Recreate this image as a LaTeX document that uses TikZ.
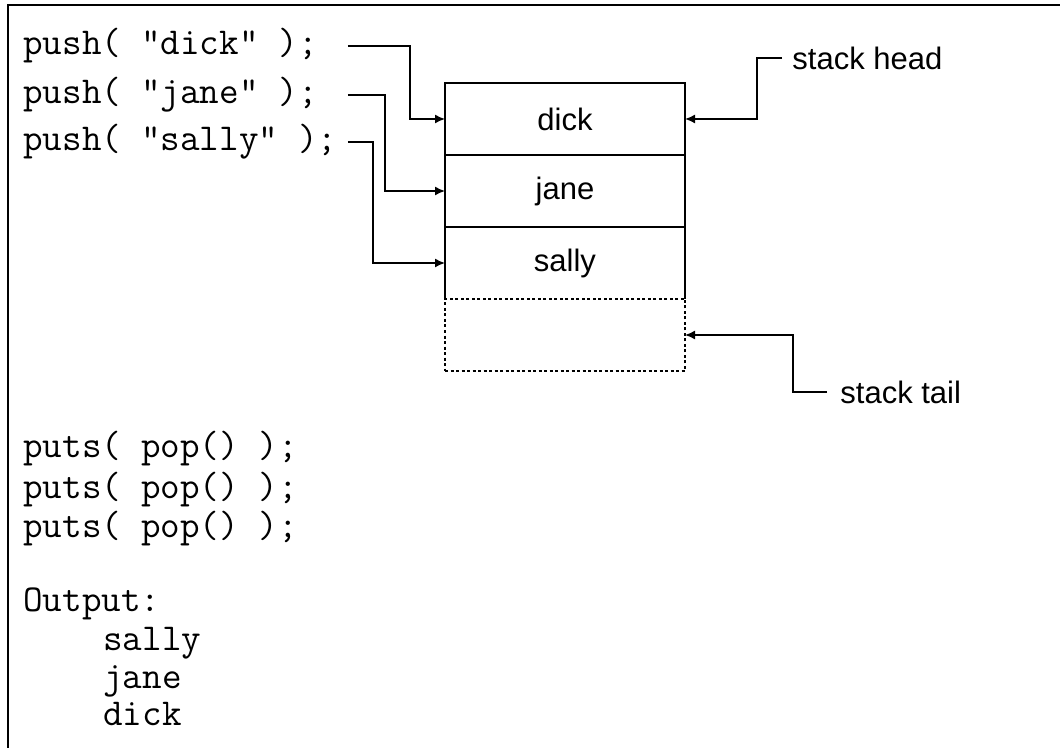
\documentclass[tikz,border=0pt]{standalone}
\usepackage{fontspec}
\usepackage{pgf,tikz}
\usetikzlibrary{positioning, arrows.meta}
\newfontfamily\labelfont{Liberation Sans}
\tikzset{
    codeline/.style={anchor=base west, inner sep=0pt, font=\ttfamily\fontsize{19}{22}\selectfont, execute at begin node={\spaceskip=0.525em\relax}},
    pushline/.style={codeline, text width=162pt, align=left},
    cell/.style={minimum width=120pt, minimum height=36pt, inner sep=0pt, outer sep=0pt, font=\labelfont\fontsize{15.5}{18}\selectfont},
    emptycell/.style={cell, draw, line width=0.75pt, dash pattern={on 1.5pt off 1.25pt}},
    tag/.style={anchor=west, inner sep=5pt, font=\labelfont\fontsize{15.5}{18}\selectfont},
    conn/.style={-{Latex[length=5pt,width=4.5pt]}, line width=0.75pt},
}

\begin{document}
\begin{tikzpicture}[x=0.5pt, y=-0.5pt]
    \useasboundingbox (0,0) rectangle (1060,748);
    \draw[line width=1.4pt] (8,748) -- (8,5) -- (1060,5); % frame, top and left only
    % the stack
    \node[cell] (dick) at (565,119) {dick};
    \node[cell, below=0pt of dick] (jane) {jane};
    \node[cell, below=0pt of jane] (sally) {sally};
    \node[emptycell, below=0pt of sally] (empty) {};
    \draw[line width=0.75pt] (sally.south west) -- (dick.north west) -- (dick.north east) -- (sally.south east);
    \draw[line width=0.75pt] (dick.south west) -- (dick.south east) (jane.south west) -- (jane.south east);
    % pushes
    \node[pushline] (pushdick) at (23,55) {push( "dick" );};
    \node[pushline] (pushjane) at (23,104) {push( "jane" );};
    \node[pushline] (pushsally) at (23,151) {push( "sally" );};
    \draw[conn] (pushdick.east) -- ++(62,0) |- (dick.west);
    \draw[conn] (pushjane.east) -- ++(37,0) |- (jane.west);
    \draw[conn] (pushsally.east) -- ++(25,0) |- (sally.west);
    % head and tail
    \node[tag] (headtag) at (782,58) {stack head};
    \node[tag, inner sep=6.5pt] (tailtag) at (827,392) {stack tail};
    \draw[conn] (headtag.west) -- ++(-25,0) |- (dick.east);
    \draw[conn] (tailtag.west) -- ++(-34,0) |- (empty.east);
    % pops and output
    \node[codeline] (popa) at (23,458) {puts( pop() );};
    \node[codeline] (popb) at (23,498) {puts( pop() );};
    \node[codeline] (popc) at (23,538) {puts( pop() );};
    \node[codeline] (output) at (23,611) {Output:};
    \node[codeline] (outa) at (103,650) {sally};
    \node[codeline] (outb) at (103,688) {jane};
    \node[codeline] (outc) at (103,725) {dick};
\end{tikzpicture}
\end{document}
